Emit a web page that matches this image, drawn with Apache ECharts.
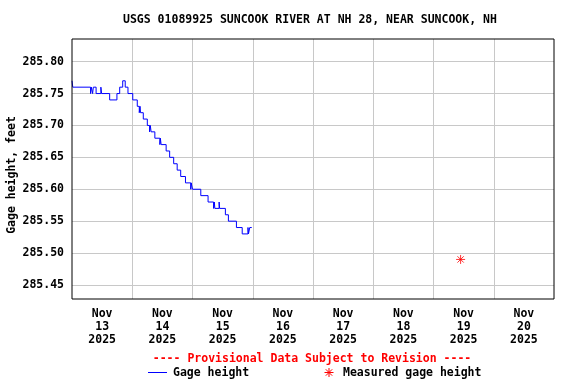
<!DOCTYPE html>
<html>
<head>
<meta charset="utf-8">
<script src="https://cdn.jsdelivr.net/npm/echarts@6/dist/echarts.min.js"></script>
<style>
html,body{margin:0;padding:0;background:#fff;}
#chart{width:576px;height:384px;}
</style>
</head>
<body>
<div id="chart"></div>
<script>
// Hours since 2025-11-13 00:00 (local) and gage height (ft); each value holds until the next time
const hours = [0, 0.3, 7.4, 7.7, 8.2, 8.5, 9.6, 11.5, 11.8, 15.0, 17.9, 19.0, 20.2, 21.2, 22.3,
  24.2, 26.0, 26.8, 27.1, 27.3, 28.4, 30.0, 30.9, 31.2, 31.5, 33.0, 35.0, 35.2, 35.5, 37.5,
  38.9, 40.5, 41.9, 43.3, 45.2, 47.3, 47.5, 48.0, 51.3, 54.2, 56.4, 56.7, 56.9, 58.6, 58.8,
  61.1, 62.3, 65.5, 67.8, 70.1, 70.3, 70.8, 71.6];
const heights = [285.77, 285.76, 285.75, 285.76, 285.75, 285.76, 285.75, 285.76, 285.75, 285.74, 285.75, 285.76, 285.77, 285.76, 285.75,
  285.74, 285.73, 285.72, 285.73, 285.72, 285.71, 285.70, 285.69, 285.70, 285.69, 285.68, 285.67, 285.68, 285.67, 285.66,
  285.65, 285.64, 285.63, 285.62, 285.61, 285.60, 285.61, 285.60, 285.59, 285.58, 285.57, 285.58, 285.57, 285.58, 285.57,
  285.56, 285.55, 285.54, 285.53, 285.54, 285.53, 285.54, 285.54];
// Field measurement
const measHours = [154.8];
const measHeights = [285.49];
// Day tick labels (placed at noon of each day)
const dayLabels = ['Nov\n13\n2025', 'Nov\n14\n2025', 'Nov\n15\n2025', 'Nov\n16\n2025',
  'Nov\n17\n2025', 'Nov\n18\n2025', 'Nov\n19\n2025', 'Nov\n20\n2025'];
const titleText = 'USGS 01089925 SUNCOOK RIVER AT NH 28, NEAR SUNCOOK, NH';
const yName = 'Gage height, feet';

const FONT = 'DejaVu Sans Mono';
const FS = 11.5;
const FSTR = 'bold ' + FS + 'px "' + FONT + '"';
const chart = echarts.init(document.getElementById('chart'), null, {renderer: 'canvas'});
const star = 'path://M5,0 L5,10 M0,5 L10,5 M1.5,1.5 L8.5,8.5 M8.5,1.5 L1.5,8.5';

const gageData = hours.map((h, i) => [h, heights[i]]);
const measData = measHours.map((h, i) => [h, measHeights[i]]);

// legend asterisk icon made of four short lines
const cx = 329, cy = 372.5, r = 4.5, d = 3.2;
const starLines = [[-r, 0, r, 0], [0, -r, 0, r], [-d, -d, d, d], [d, -d, -d, d]].map(s => ({
  type: 'line', shape: {x1: cx + s[0], y1: cy + s[1], x2: cx + s[2], y2: cy + s[3]},
  style: {stroke: '#ff0000', lineWidth: 1}
}));

chart.setOption({
  animation: false,
  backgroundColor: '#fff',
  title: {
    text: titleText, left: 123, top: 14, padding: 0,
    textStyle: {fontFamily: FONT, fontSize: FS, fontWeight: 'bold', color: '#000'}
  },
  grid: {left: 72, top: 39, right: 22, bottom: 85, show: true, borderColor: '#000', borderWidth: 1, backgroundColor: 'transparent', z: 10},
  xAxis: [{
    type: 'value', min: 0, max: 192, interval: 12,
    axisLine: {show: false}, axisTick: {show: false}, splitLine: {show: false},
    axisLabel: {
      margin: 9, lineHeight: 13, fontFamily: FONT, fontSize: FS, fontWeight: 'bold', color: '#000',
      formatter: v => (Math.round(v) % 24 === 12) ? dayLabels[(Math.round(v) - 12) / 24] : ''
    }
  }, {
    type: 'value', min: 0, max: 192, interval: 24, position: 'bottom',
    axisLine: {show: false}, axisTick: {show: false}, axisLabel: {show: false},
    splitLine: {show: true, showMinLine: false, showMaxLine: false, lineStyle: {color: '#c8c8c8', width: 1}}
  }],
  yAxis: {
    type: 'value', min: 285.428, max: 285.8355, splitNumber: 8,
    axisLine: {show: false}, axisTick: {show: false},
    splitLine: {show: true, showMinLine: false, showMaxLine: false, lineStyle: {color: '#c8c8c8', width: 1}},
    axisLabel: {
      margin: 8, fontFamily: FONT, fontSize: FS, fontWeight: 'bold', color: '#000',
      formatter: v => { const q = Math.round(v * 20) / 20; return Math.abs(v - q) < 1e-6 ? q.toFixed(2) : ''; }
    }
  },
  series: [{
    type: 'line', name: 'Gage height', data: gageData, step: 'end', showSymbol: false,
    lineStyle: {color: '#0000ff', width: 1}, itemStyle: {color: '#0000ff'}, z: 5
  }, {
    type: 'scatter', name: 'Measured gage height', data: measData, symbol: star, symbolSize: 9,
    itemStyle: {color: 'none', borderColor: '#ff0000', borderWidth: 1}, z: 6
  }],
  graphic: [
    {type: 'text', x: 12, y: 175, rotation: Math.PI / 2,
      style: {text: yName, font: FSTR, fill: '#000', align: 'center', verticalAlign: 'middle'}},
    {type: 'text', x: 312, y: 359,
      style: {text: '---- Provisional Data Subject to Revision ----', font: FSTR, fill: '#ff0000', align: 'center', verticalAlign: 'middle'}},
    {type: 'line', shape: {x1: 148, y1: 372.5, x2: 167, y2: 372.5}, style: {stroke: '#0000ff', lineWidth: 1}},
    {type: 'text', x: 173, y: 373,
      style: {text: 'Gage height', font: FSTR, fill: '#000', align: 'left', verticalAlign: 'middle'}},
    ...starLines,
    {type: 'text', x: 343, y: 373,
      style: {text: 'Measured gage height', font: FSTR, fill: '#000', align: 'left', verticalAlign: 'middle'}}
  ]
});
</script>
</body>
</html>
